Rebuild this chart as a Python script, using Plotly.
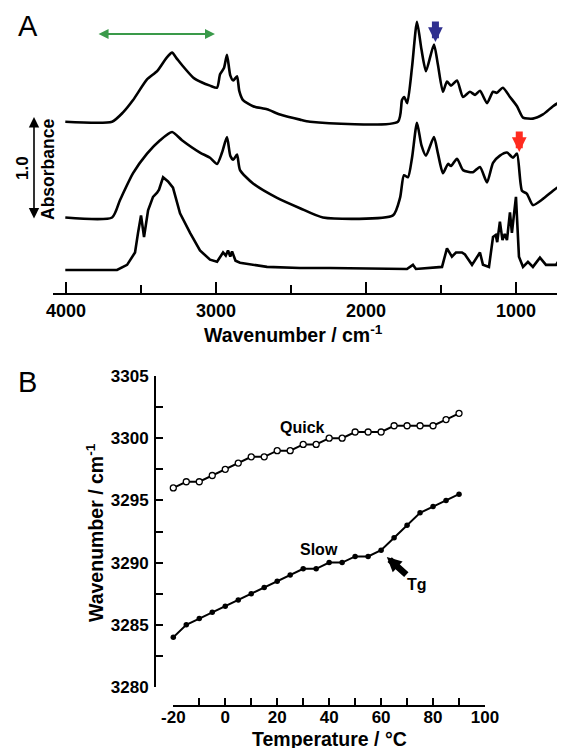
import plotly.graph_objects as go
import numpy as np

# The page body adds an 8 px margin, so the figure is sized to fill the rest of the window
OFF = 8
W, H = 565 - OFF, 748 - OFF
FONT = "Liberation Sans, Arial, sans-serif"

# ---------------- Panel A data (wavenumber / cm-1, absorbance above baseline) ----------------
top_wn = [4005, 3693, 3620, 3553, 3460, 3393, 3330, 3293, 3260, 3227, 3153, 3093, 3040, 2993,
          2973, 2947, 2927, 2905, 2885, 2860, 2845, 2820, 2753, 2660, 2573, 2440, 2373, 1787,
          1760, 1745, 1725, 1693, 1660, 1630, 1600, 1547, 1520, 1487, 1460, 1433, 1393, 1353,
          1307, 1273, 1240, 1193, 1153, 1127, 1087, 1040, 993, 953, 887, 820, 753, 687]
top_abs = [0, 0, 0.09, 0.21, 0.41, 0.49, 0.62, 0.67, 0.61, 0.55, 0.43, 0.38, 0.35, 0.33,
           0.46, 0.52, 0.65, 0.45, 0.40, 0.44, 0.30, 0.21, 0.15, 0.12, 0.07, 0.02, 0, 0,
           0.21, 0.24, 0.18, 0.53, 0.97, 0.70, 0.49, 0.75, 0.55, 0.29, 0.39, 0.35, 0.40, 0.24,
           0.29, 0.26, 0.30, 0.18, 0.29, 0.28, 0.33, 0.24, 0.15, 0.04, 0.03, 0.07, 0.15, 0.21]

mid_wn = [4005, 3693, 3640, 3553, 3460, 3373, 3293, 3227, 3107, 3040, 2993, 2960, 2927, 2905,
          2885, 2860, 2840, 2753, 2593, 2440, 2287, 1820, 1773, 1747, 1720, 1693, 1660, 1630,
          1600, 1547, 1520, 1487, 1453, 1433, 1393, 1353, 1287, 1240, 1193, 1153, 1107, 1060,
          1020, 993, 960, 927, 887, 820, 753, 687]
mid_abs = [0, 0, 0.17, 0.43, 0.62, 0.75, 0.83, 0.75, 0.63, 0.58, 0.52, 0.63, 0.78, 0.60,
           0.56, 0.61, 0.46, 0.33, 0.19, 0.09, 0, 0.02, 0.19, 0.41, 0.39, 0.58, 0.92, 0.70,
           0.60, 0.78, 0.62, 0.43, 0.52, 0.50, 0.57, 0.46, 0.44, 0.49, 0.34, 0.53, 0.60, 0.63,
           0.58, 0.62, 0.26, 0.23, 0.12, 0.18, 0.26, 0.33]

bot_wn = [4005, 3660, 3593, 3540, 3520, 3500, 3480, 3453, 3420, 3393, 3380, 3353, 3320, 3287,
          3240, 3173, 3107, 3040, 2993, 2953, 2935, 2920, 2905, 2893, 2870, 2840, 2660, 2440,
          2240, 1727, 1687, 1667, 1493, 1460, 1427, 1400, 1360, 1340, 1293, 1240, 1220, 1180,
          1153, 1135, 1125, 1107, 1090, 1075, 1060, 1040, 1027, 1000, 980, 953, 920, 887, 840,
          800, 733, 687]
bot_abs = [0, 0, 0.05, 0.17, 0.36, 0.53, 0.32, 0.58, 0.71, 0.75, 0.78, 0.90, 0.86, 0.80,
           0.55, 0.36, 0.19, 0.10, 0.08, 0.17, 0.14, 0.19, 0.13, 0.18, 0.09, 0.07, 0.03, 0.02,
           0.02, 0.01, 0.05, 0.01, 0.03, 0.21, 0.13, 0.17, 0.17, 0.15, 0.05, 0.17, 0.05, 0.03,
           0.32, 0.34, 0.27, 0.47, 0.29, 0.35, 0.29, 0.56, 0.36, 0.71, 0.13, 0.03, 0.08, 0.03,
           0.12, 0.05, 0.05, 0.15]

offsets = {"top": 1.44, "mid": 0.51, "bot": 0.0}

# ---------------- Panel B data ----------------
temps = [-20, -15, -10, -5, 0, 5, 10, 15, 20, 25, 30, 35, 40, 45, 50, 55, 60, 65, 70, 75, 80, 85, 90]
quick = [3296.0, 3296.5, 3296.5, 3297.0, 3297.5, 3298.0, 3298.5, 3298.5, 3299.0, 3299.0,
         3299.5, 3299.5, 3300.0, 3300.0, 3300.5, 3300.5, 3300.5, 3301.0, 3301.0, 3301.0,
         3301.0, 3301.5, 3302.0]
slow = [3284.0, 3285.0, 3285.5, 3286.0, 3286.5, 3287.0, 3287.5, 3288.0, 3288.5, 3289.0,
        3289.5, 3289.5, 3290.0, 3290.0, 3290.5, 3290.5, 3291.0, 3292.0, 3293.0, 3294.0,
        3294.5, 3295.0, 3295.5]

B_xticks = [-20, 0, 20, 40, 60, 80, 100]
B_xlabels = ["-20", "0", "20", "40", "60", "80", "100"]
B_yticks = [3280, 3285, 3290, 3295, 3300, 3305]
A_xticks = [4000, 3000, 2000, 1000]


def px(x):
    return (x - OFF) / W


def py(y):
    return 1 - (y - OFF) / H


fig = go.Figure()

for wn, ab, key, shape in [(top_wn, top_abs, "top", "spline"),
                           (mid_wn, mid_abs, "mid", "spline"),
                           (bot_wn, bot_abs, "bot", "linear")]:
    fig.add_trace(go.Scatter(
        x=wn, y=np.array(ab) + offsets[key], mode="lines",
        line=dict(color="black", width=2.6, shape=shape, smoothing=0.6),
        xaxis="x", yaxis="y", showlegend=False, hoverinfo="skip", cliponaxis=False))

fig.add_trace(go.Scatter(
    x=temps, y=quick, mode="lines+markers",
    line=dict(color="black", width=2),
    marker=dict(symbol="circle", size=6, color="white", line=dict(color="black", width=1.3)),
    xaxis="x2", yaxis="y2", showlegend=False, cliponaxis=False))
fig.add_trace(go.Scatter(
    x=temps, y=slow, mode="lines+markers",
    line=dict(color="black", width=2),
    marker=dict(symbol="circle", size=5.5, color="black"),
    xaxis="x2", yaxis="y2", showlegend=False, cliponaxis=False))

tickfontA = dict(family=FONT, size=18, color="black", weight="bold")
tickfontB = dict(family=FONT, size=17, color="black", weight="bold")
titlefont = dict(family=FONT, size=19.5, color="black", weight="bold")

# panel A vertical scale: bottom baseline at 270 px, 103 px per 1.0 absorbance
A_ylo = (270 - 293) / 103
A_yhi = (270 - 10) / 103

fig.update_layout(
    template="none",
    width=W, height=H, margin=dict(l=0, r=0, t=0, b=0, pad=0, autoexpand=False),
    paper_bgcolor="white", plot_bgcolor="white",
    font=dict(family=FONT, color="black"),
    xaxis=dict(domain=[px(53), 1.0], range=[4087, 673], anchor="y", automargin=False,
               showline=True, linecolor="black", linewidth=2,
               ticks="inside", ticklen=11, tickwidth=2, tickcolor="black",
               tickvals=A_xticks, tickfont=tickfontA, ticklabelstandoff=0,
               minor=dict(tickvals=[3500, 2500, 1500], ticks="inside", ticklen=8,
                          tickwidth=2, tickcolor="black", showgrid=False),
               showgrid=False, zeroline=False),
    yaxis=dict(domain=[py(293), py(10)], range=[A_ylo, A_yhi], anchor="x", automargin=False,
               visible=False, showgrid=False, zeroline=False),
    xaxis2=dict(domain=[px(173.3), px(485)], range=[-20, 100], anchor="free", automargin=False,
                position=py(706), showline=True, linecolor="black", linewidth=2,
                ticks="inside", ticklen=7, tickwidth=2, tickcolor="black",
                tickvals=B_xticks, ticktext=B_xlabels, tickfont=tickfontB, ticklabelstandoff=-4,
                minor=dict(tickvals=[-10, 10, 30, 50, 70, 90], ticks="inside", ticklen=7,
                           tickwidth=2, tickcolor="black", showgrid=False),
                showgrid=False, zeroline=False),
    yaxis2=dict(domain=[py(687), py(376)], range=[3280, 3305], anchor="free", automargin=False,
                position=px(155), showline=True, linecolor="black", linewidth=2,
                ticks="inside", ticklen=7, tickwidth=2, tickcolor="black",
                tickvals=B_yticks, tickfont=tickfontB, ticklabelstandoff=2,
                minor=dict(tickvals=[3282.5, 3287.5, 3292.5, 3297.5, 3302.5], ticks="inside",
                           ticklen=7, tickwidth=2, tickcolor="black", showgrid=False),
                showgrid=False, zeroline=False),
)

ann = []
# panel letters
ann.append(dict(text="A", x=px(16), y=py(26), xref="paper", yref="paper", showarrow=False,
                xanchor="left", yanchor="middle", font=dict(family=FONT, size=29, color="black")))
ann.append(dict(text="B", x=px(16), y=py(382), xref="paper", yref="paper", showarrow=False,
                xanchor="left", yanchor="middle", font=dict(family=FONT, size=29, color="black")))
# axis titles
ann.append(dict(text="Wavenumber / cm<sup>-1</sup>", x=px(293), y=py(334), xref="paper", yref="paper",
                showarrow=False, xanchor="center", yanchor="middle", font=titlefont))
ann.append(dict(text="Wavenumber / cm<sup>-1</sup>", x=px(95), y=py(533), xref="paper", yref="paper",
                showarrow=False, xanchor="center", yanchor="middle", textangle=-90, font=titlefont))
ann.append(dict(text="Temperature / °C", x=px(329), y=py(739), xref="paper", yref="paper",
                showarrow=False, xanchor="center", yanchor="middle", font=titlefont))
# scale bar
ann.append(dict(text="", x=px(34), y=py(117), ax=0, ay=103, xref="paper", yref="paper",
                showarrow=True, arrowside="end+start",
                arrowhead=2, startarrowhead=2, arrowsize=1.3, startarrowsize=1.3,
                arrowwidth=1.6, arrowcolor="black"))
ann.append(dict(text="1.0", x=px(22), y=py(168), xref="paper", yref="paper", showarrow=False,
                xanchor="center", yanchor="middle", textangle=-90,
                font=dict(family=FONT, size=17, color="black", weight="bold")))
ann.append(dict(text="Absorbance", x=px(48), y=py(170), xref="paper", yref="paper", showarrow=False,
                xanchor="center", yanchor="middle", textangle=-90,
                font=dict(family=FONT, size=17.5, color="black", weight="bold")))
# green double arrow (O-H region)
gy = (270 - 34) / 103
ann.append(dict(text="", x=3007, y=gy, ax=3793, ay=gy, xref="x", yref="y", axref="x", ayref="y",
                showarrow=True, arrowside="end+start", arrowhead=2, startarrowhead=2,
                arrowsize=1, startarrowsize=1, arrowwidth=2, arrowcolor="#3a9a4a"))
# blue and red block arrows
ann.append(dict(text="", x=1537, y=(270 - 42) / 103, ax=0, ay=-22, xref="x", yref="y",
                showarrow=True, arrowhead=2, arrowsize=0.42, arrowwidth=7, arrowcolor="#30308f"))
ann.append(dict(text="", x=978, y=(270 - 152) / 103, ax=0, ay=-22, xref="x", yref="y",
                showarrow=True, arrowhead=2, arrowsize=0.42, arrowwidth=7, arrowcolor="#ff2b1f"))
# panel B labels
ann.append(dict(text="Quick", x=29.6, y=3300.9, xref="x2", yref="y2", showarrow=False,
                font=dict(family=FONT, size=16, color="black", weight="bold")))
ann.append(dict(text="Slow", x=36.2, y=3291.05, xref="x2", yref="y2", showarrow=False,
                font=dict(family=FONT, size=16, color="black", weight="bold")))
ann.append(dict(text="Tg", x=74, y=3288.2, xref="x2", yref="y2", showarrow=False,
                font=dict(family=FONT, size=16, color="black", weight="bold")))
ann.append(dict(text="", x=62.2, y=3290.45, ax=21, ay=19, xref="x2", yref="y2",
                showarrow=True, arrowhead=2, arrowsize=0.45, arrowwidth=6.5, arrowcolor="black"))

fig.update_layout(annotations=ann)
fig.write_html("out.html")
